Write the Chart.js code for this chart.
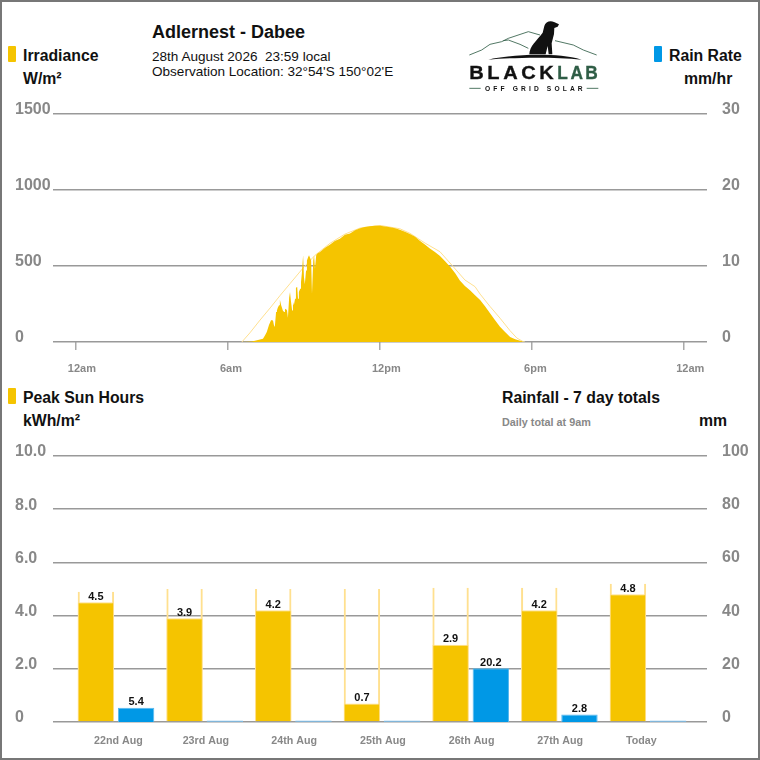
<!DOCTYPE html>
<html>

<head>
    <title>Adlernest - Dabee</title>
    <script src="https://cdn.jsdelivr.net/npm/chart.js@4/dist/chart.umd.min.js"></script>
    <style type="text/css">
        html, body {
            margin: 0;
            padding: 0;
            width: 760px;
            height: 760px;
            overflow: hidden;
            background: #fff;
            font-family: "Liberation Sans", Arial, sans-serif;
            color: #111;
        }

        canvas { position: absolute; left: 0; }
        #frame {
            position: absolute; left: 0; top: 0; width: 756px; height: 756px;
            border: 2px solid #777; pointer-events: none;
        }
        .t { position: absolute; white-space: pre; line-height: 20px; }
        .b { font-weight: bold; font-size: 15.8px; }
        .s { font-size: 13.55px; }
        .swatch { position: absolute; width: 8px; height: 16px; border-radius: 1px; }
        #logo { position: absolute; left: 440px; top: 10px; }
    </style>
</head>

<body>
    <canvas id="irradianceChart" width="760" height="285" style="top:95px"></canvas>
    <canvas id="dailyChart" width="760" height="325" style="top:435px"></canvas>

    <div class="swatch" style="left:8px;top:46px;background:#f5c400"></div>
    <div class="t b" style="left:23px;top:46px">Irradiance</div>
    <div class="t b" style="left:23px;top:69px">W/m²</div>

    <div class="t" style="left:152px;top:22px;font-weight:bold;font-size:18px">Adlernest - Dabee</div>
    <div class="t s" style="left:152px;top:47px">28th August 2026  23:59 local</div>
    <div class="t s" style="left:152px;top:62px">Observation Location: 32°54'S 150°02'E</div>

    <div class="swatch" style="left:654px;top:46px;background:#0098e6"></div>
    <div class="t b" style="left:669px;top:46px">Rain Rate</div>
    <div class="t b" style="left:684px;top:69px">mm/hr</div>

    <div class="swatch" style="left:8px;top:388px;background:#f5c400"></div>
    <div class="t b" style="left:23px;top:388px">Peak Sun Hours</div>
    <div class="t b" style="left:23px;top:411px">kWh/m²</div>

    <div class="t b" style="left:502px;top:388px">Rainfall - 7 day totals</div>
    <div class="t" style="left:502px;top:412px;font-weight:bold;font-size:10.8px;color:#888">Daily total at 9am</div>
    <div class="t b" style="left:699px;top:411px">mm</div>

    <svg id="logo" width="180" height="90" viewBox="0 0 540 270">
        <g fill="none" stroke="#2f5d46" stroke-width="2.5">
            <polyline points="88,135 125,120 150,103 185,95 205,85 265,65 300,75" />
            <polyline points="190,92 205,90 240,103 265,115" />
            <polyline points="345,92 400,105 430,120 470,135" />
        </g>
        <path fill="#111" d="M145 149 C 210 135, 340 125, 425 149 C 340 140, 220 142, 145 149 Z" />
        <path fill="#111" d="M268 133 C 268 108, 292 90, 308 68 L 313 48 C 316 36, 330 30, 342 36 L 357 43 L 353 50 L 343 54 L 342 72 L 335 100 L 337 133 L 326 133 L 323 108 L 317 133 Z" />
        <text x="88" y="208" font-family="Liberation Sans" font-weight="bold" font-size="56" letter-spacing="10" stroke="#111" stroke-width="1" fill="#111" textLength="264" lengthAdjust="spacingAndGlyphs">BLACK</text>
        <text x="352" y="208" font-family="Liberation Sans" font-weight="bold" font-size="56" letter-spacing="8" stroke="#2f5d46" stroke-width="1" fill="#2f5d46" textLength="129" lengthAdjust="spacingAndGlyphs">LAB</text>
        <text x="135" y="242" font-family="Liberation Sans" font-weight="bold" font-size="20" fill="#111" textLength="293">OFF GRID SOLAR</text>
        <g stroke="#2f5d46" stroke-width="2.5">
            <line x1="88" y1="235" x2="122" y2="235" />
            <line x1="440" y1="235" x2="475" y2="235" />
        </g>
    </svg>

    <div id="frame"></div>

    <script>
        // top chart, x is minutes since midnight
        var hourTicks = [0, 360, 720, 1080, 1440];
        var hourLabels = ['12am', '6am', '12pm', '6pm', '12am'];
        var irradianceTicks = [0, 500, 1000, 1500];
        var rainRateTicks = [0, 10, 20, 30];

        var irrMinutes = [393, 417, 443, 448, 452, 457, 462, 464, 467, 469, 471, 474, 476, 478, 481, 483, 486, 488, 490, 493,
            495, 497, 500, 502, 505, 507, 509, 512, 514, 516, 519, 521, 524, 526, 528, 531, 533, 535, 538, 540,
            542, 545, 547, 550, 552, 554, 557, 559, 562, 564, 566, 569, 571, 578, 590, 602, 613, 625, 637, 649,
            661, 673, 684, 696, 708, 720, 732, 744, 756, 767, 779, 791, 803, 815, 827, 838, 850, 862, 874, 886,
            898, 909, 921, 933, 945, 957, 969, 980, 992, 1004, 1016, 1028, 1040, 1052, 1059];
        var irrValues = [0, 4, 22, 44, 66, 110, 143, 147, 138, 110, 99, 197, 208, 226, 241, 278, 241, 226, 208, 197,
            213, 219, 208, 160, 292, 329, 274, 208, 263, 241, 285, 357, 362, 285, 329, 351, 395, 450, 570, 430,
            380, 470, 537, 559, 570, 570, 537, 318, 537, 570, 482, 570, 581, 592, 620, 642, 664, 680, 706, 713,
            735, 748, 757, 761, 765, 765, 760, 755, 748, 738, 726, 710, 692, 665, 640, 615, 592, 566, 532, 495,
            452, 405, 368, 340, 308, 276, 233, 190, 145, 100, 65, 33, 18, 8, 0];

        var clearMinutes = [393, 412, 436, 460, 483, 507, 538, 566, 602, 637, 673, 720, 767, 791, 827, 862, 890, 921, 945, 957, 980, 1004, 1028, 1044, 1059, 1063];
        var clearValues = [0, 60, 144, 224, 304, 384, 487, 570, 650, 710, 750, 767, 745, 715, 650, 594, 506, 408, 364, 315, 235, 157, 74, 26, 2, 0];

        // bottom chart
        var days = ['22nd Aug', '23rd Aug', '24th Aug', '25th Aug', '26th Aug', '27th Aug', 'Today'];
        var sunHours = [4.5, 3.9, 4.2, 0.7, 2.9, 4.2, 4.8];
        var clearSkyHours = [4.9, 5.0, 5.0, 5.0, 5.05, 5.05, 5.2];
        var rainfall = [5.4, 0, 0, 0, 20.2, 2.8, 0];

        var gridGrey = '#999999';
        var textGrey = '#888888';
        var yellow = '#f5c400';
        var pale = '#ffe08f';
        var blue = '#0098e6';
        var paleBlue = '#7cbde8';

        var tickFont = { family: 'Liberation Sans', size: 16, weight: 'bold' };
        var xFont = { family: 'Liberation Sans', size: 11, weight: 'bold' };
        var dayFont = { family: 'Liberation Sans', size: 10.7, weight: 'bold' };

        function xy(xs, ys) {
            return xs.map(function (x, i) { return { x: x, y: ys[i] }; });
        }

        // fixed axis sizes, and drop the label padding so the plot area stays where it should
        function setWidth(w) { return function (s) { s.width = w; s.paddingTop = 0; s.paddingBottom = 0; }; }
        function setHeight(h) { return function (s) { s.height = h; s.paddingLeft = 0; s.paddingRight = 0; }; }

        function leftAxis(min, max, step, fmt) {
            return {
                position: 'left', min: min, max: max, stacked: false,
                border: { display: false },
                grid: { color: gridGrey, lineWidth: 1.5, drawTicks: false },
                afterFit: setWidth(38),
                ticks: { stepSize: step, crossAlign: 'far', labelOffset: -4, padding: 0, color: textGrey, font: tickFont, callback: fmt }
            };
        }

        function rightAxis(min, max, step) {
            return {
                position: 'right', min: min, max: max, stacked: false,
                border: { display: false },
                grid: { display: false, drawTicks: false },
                afterFit: setWidth(53),
                ticks: { stepSize: step, crossAlign: 'near', labelOffset: -4.5, padding: 15, color: textGrey, font: tickFont }
            };
        }

        new Chart(document.getElementById('irradianceChart'), {
            type: 'line',
            data: {
                datasets: [
                    { data: xy(irrMinutes, irrValues), yAxisID: 'y', borderWidth: 0, backgroundColor: yellow, fill: 'origin', pointRadius: 0, tension: 0 },
                    { data: xy(clearMinutes, clearValues), yAxisID: 'y', borderColor: pale, borderWidth: 1, fill: false, pointRadius: 0, tension: 0 }
                ]
            },
            options: {
                responsive: false,
                animation: false,
                layout: { padding: { left: 15, top: 19 } },
                plugins: { legend: { display: false }, tooltip: { enabled: false } },
                scales: {
                    x: {
                        type: 'linear', min: -54, max: 1494,
                        border: { display: false },
                        grid: { color: '#aaaaaa', lineWidth: 1.5, drawOnChartArea: false, tickLength: 8 },
                        afterFit: setHeight(38),
                        afterBuildTicks: function (s) { s.ticks = hourTicks.map(function (v) { return { value: v }; }); },
                        ticks: {
                            align: 'start', labelOffset: -8, padding: 12, maxRotation: 0, color: textGrey, font: xFont,
                            callback: function (v, i) { return hourLabels[i]; }
                        }
                    },
                    y: leftAxis(irradianceTicks[0], irradianceTicks[3], 500),
                    yRain: rightAxis(rainRateTicks[0], rainRateTicks[3], 10)
                }
            }
        });

        // numbers above the sun hour and rainfall bars
        var barValues = {
            id: 'barValues',
            afterDatasetsDraw: function (chart) {
                var ctx = chart.ctx;
                ctx.save();
                ctx.font = 'bold 11px "Liberation Sans"';
                ctx.fillStyle = '#111';
                ctx.textAlign = 'center';
                ctx.textBaseline = 'bottom';
                chart.data.datasets.forEach(function (ds, d) {
                    if (!ds.showValue) return;
                    chart.getDatasetMeta(d).data.forEach(function (bar, i) {
                        var v = ds.data[i].y;
                        if (v > 0) ctx.fillText(v.toFixed(1), bar.x, bar.y);
                    });
                });
                ctx.restore();
            }
        };

        var dayIndex = days.map(function (d, i) { return i; });

        new Chart(document.getElementById('dailyChart'), {
            type: 'bar',
            plugins: [barValues],
            data: {
                datasets: [
                    {
                        data: xy(dayIndex, sunHours), yAxisID: 'y', stack: 'sun', showValue: true,
                        backgroundColor: yellow, borderColor: pale, borderWidth: { left: 1, right: 1, top: 1, bottom: 0 }
                    },
                    {
                        data: xy(dayIndex, clearSkyHours), yAxisID: 'y', stack: 'sun',
                        backgroundColor: 'rgba(0,0,0,0)', borderColor: pale, borderWidth: { left: 2, right: 2, top: 0, bottom: 0 }
                    },
                    {
                        data: xy(dayIndex, rainfall), yAxisID: 'yRain', stack: 'rain', showValue: true,
                        backgroundColor: rainfall.map(function (v) { return v > 0 ? blue : paleBlue; }),
                        borderColor: rainfall.map(function (v) { return v > 0 ? '#58b8ee' : paleBlue; }),
                        borderWidth: { left: 1, right: 1, top: 1, bottom: 0 }, minBarLength: 1.5
                    }
                ]
            },
            options: {
                responsive: false,
                animation: false,
                categoryPercentage: 0.907,
                barPercentage: 0.905,
                layout: { padding: { left: 15, top: 21 } },
                plugins: { legend: { display: false }, tooltip: { enabled: false } },
                scales: {
                    x: {
                        type: 'linear', min: -0.7105, max: 6.665, offset: false,
                        border: { display: false },
                        grid: { display: false, drawTicks: false, offset: false },
                        afterFit: setHeight(38),
                        afterBuildTicks: function (s) { s.ticks = dayIndex.map(function (v) { return { value: v }; }); },
                        ticks: {
                            align: 'start', labelOffset: -22, padding: 13, maxRotation: 0, color: textGrey, font: dayFont,
                            callback: function (v, i) { return days[i]; }
                        }
                    },
                    y: leftAxis(0, 10, 2, function (v) { return v === 0 ? '0' : v.toFixed(1); }),
                    yRain: rightAxis(0, 100, 20)
                }
            }
        });
    </script>

</body>

</html>
